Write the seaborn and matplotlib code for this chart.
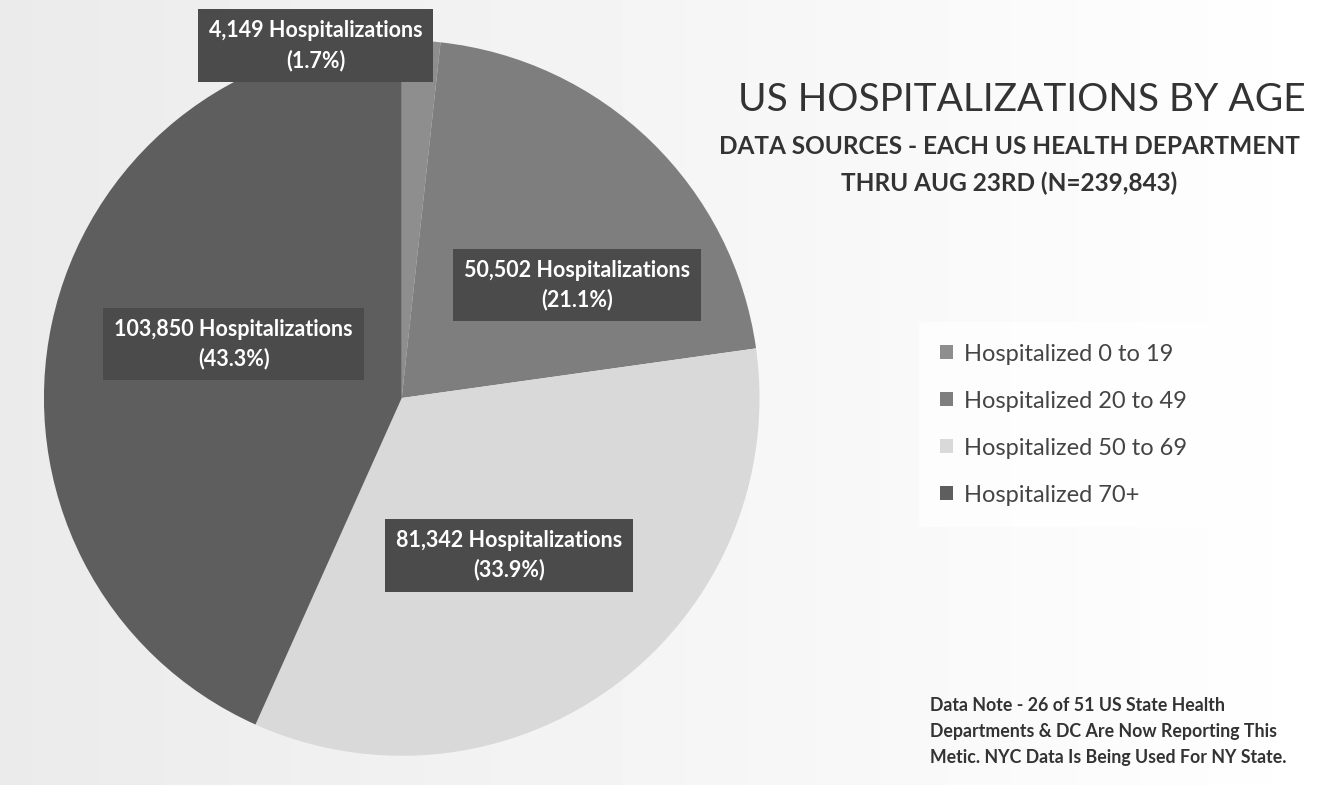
import numpy as np
import matplotlib
matplotlib.use("Agg")
import matplotlib.pyplot as plt
import seaborn as sns

# --- chart data ---
age_groups = ["Hospitalized 0 to 19", "Hospitalized 20 to 49",
              "Hospitalized 50 to 69", "Hospitalized 70+"]
hospitalizations = [4149, 50502, 81342, 103850]
percent_labels = ["1.7%", "21.1%", "33.9%", "43.3%"]

title = "US HOSPITALIZATIONS BY AGE"
subtitle = "DATA SOURCES - EACH US HEALTH DEPARTMENT\nTHRU AUG 23RD (N=239,843)"
note = ("Data Note - 26 of 51 US State Health\n"
        "Departments & DC Are Now Reporting This\n"
        "Metic. NYC Data Is Being Used For NY State.")

# grey shades of the slices and where the dark label boxes sit (data coords)
slice_colors = ["#8e8e8e", "#7e7e7e", "#d9d9d9", "#5e5e5e"]
label_xy = [(-0.24, 0.985), (0.49, 0.315), (0.30, -0.44), (-0.47, 0.15)]

sns.set_style("white")
plt.rcParams['font.family'] = ['Lato', 'DejaVu Sans']

fig = plt.figure(figsize=(13.4, 7.85), dpi=100)

# light grey background fading to white on the right
bg = fig.add_axes([0, 0, 1, 1], zorder=-10)
grad = np.linspace(0.92, 1.0, 256).reshape(1, -1)
bg.imshow(grad, cmap="gray", vmin=0, vmax=1, aspect="auto",
          extent=[0, 1, 0, 1])
bg.axis("off")

# pie
ax = fig.add_axes([0.0328, 0.037, 0.534, 0.912])
wedges, _ = ax.pie(hospitalizations, colors=slice_colors, startangle=90,
                   counterclock=False, radius=1.0,
                   wedgeprops=dict(linewidth=0, edgecolor="none"))
ax.set_xlim(-1, 1)
ax.set_ylim(-1, 1)
ax.set_aspect("equal")
ax.axis("off")

for (x, y), n, p in zip(label_xy, hospitalizations, percent_labels):
    ax.text(x, y, f"{n:,} Hospitalizations\n({p})", ha="center", va="center",
            color="white", fontsize=15.5, fontweight="bold", linespacing=1.45,
            bbox=dict(boxstyle="square,pad=0.5", fc="#4b4b4b", ec="none"),
            zorder=5)

# title block
fig.text(0.7625, 0.872, title, ha="center", va="center",
         fontsize=28, color="#333333")
fig.text(0.753, 0.79, subtitle, ha="center", va="center",
         fontsize=17.6, fontweight="bold", color="#333333", linespacing=1.7)

# legend
leg = fig.legend(wedges, age_groups, loc="center left",
                 bbox_to_anchor=(0.677, 0.459), frameon=True,
                 fontsize=17, handlelength=0.55, handleheight=0.55,
                 handletextpad=0.45, labelspacing=1.1, borderpad=0.9)
leg.get_frame().set_facecolor("white")
leg.get_frame().set_edgecolor("none")
for t in leg.get_texts():
    t.set_color("#444444")

# data note
fig.text(0.694, 0.068, note, ha="left", va="center", fontsize=12.8,
         fontweight="bold", color="#333333", linespacing=1.65)

fig.savefig("out.png", dpi=100)
